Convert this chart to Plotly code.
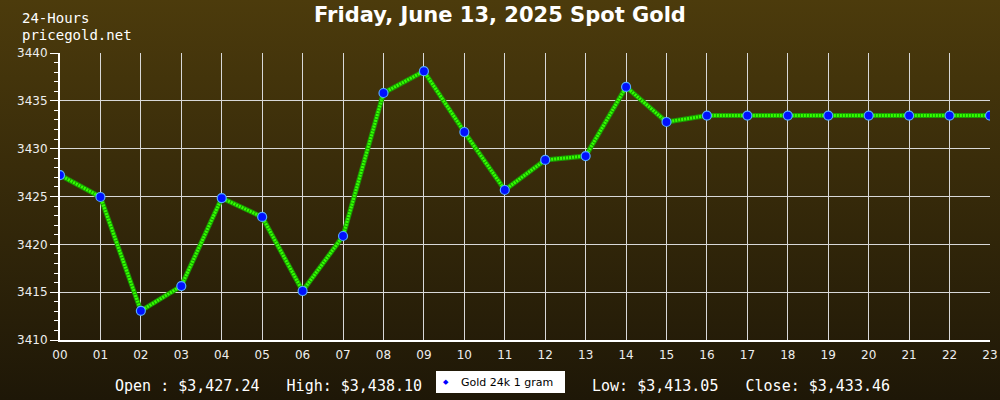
import plotly.graph_objects as go
import urllib.parse

hours = ["00","01","02","03","04","05","06","07","08","09","10","11",
         "12","13","14","15","16","17","18","19","20","21","22","23"]
prices = [3427.24, 3424.95, 3413.05, 3415.64, 3424.84, 3422.86, 3415.12, 3420.87,
          3435.82, 3438.10, 3431.74, 3425.68, 3428.82, 3429.23, 3436.45, 3432.79,
          3433.46, 3433.46, 3433.46, 3433.46, 3433.46, 3433.46, 3433.46, 3433.46]
title_text = "Friday, June 13, 2025 Spot Gold"
series_name = "Gold 24k 1 gram"
open_p, high_p, low_p, close_p = 3427.24, 3438.10, 3413.05, 3433.46

W, H = 1000, 400
L, R, T, B = 60, 10, 53, 60
pw, ph = W - L - R, H - T - B


def px(x):
    return (x - L) / pw


def py(y):
    return (H - B - y) / ph


svg = ('<svg xmlns="http://www.w3.org/2000/svg" width="1000" height="400" preserveAspectRatio="none">'
       '<defs><linearGradient id="g" x1="0" y1="0" x2="0" y2="1">'
       '<stop offset="0" stop-color="#4c3b0c"/><stop offset="1" stop-color="#1e1707"/>'
       '</linearGradient></defs><rect width="1000" height="400" fill="url(#g)"/></svg>')
bg_src = "data:image/svg+xml;charset=utf-8," + urllib.parse.quote(svg)

xs = list(range(len(hours)))
fig = go.Figure()
fig.add_trace(go.Scatter(
    x=xs, y=prices, mode="lines", showlegend=False, hoverinfo="skip",
    line=dict(color="#1a9a00", width=5)))
fig.add_trace(go.Scatter(
    x=xs, y=prices, mode="lines+markers", showlegend=False, name=series_name,
    line=dict(color="#33ff00", width=3, dash="2px,1px"),
    marker=dict(color="#0010ff", size=9, line=dict(color="#55aaff", width=1.2))))

mono = "DejaVu Sans Mono"
tfont = dict(family="DejaVu Sans", size=12, color="#eeeeee")


def ann(text, x, y, font, xanchor="left"):
    return dict(text=text, x=px(x), y=py(y), xref="paper", yref="paper",
                showarrow=False, xanchor=xanchor, yanchor="middle", font=font)


mfont = dict(family=mono, size=15, color="white")
sfont = dict(family=mono, size=14, color="white")
fig.update_layout(
    width=W, height=H, autosize=False, showlegend=False,
    margin=dict(l=L, r=R, t=T, b=B, autoexpand=False),
    paper_bgcolor="#2a2109", plot_bgcolor="rgba(0,0,0,0)",
    images=[dict(source=bg_src, xref="paper", yref="paper",
                 x=-L / pw, y=1 + T / ph, sizex=W / pw, sizey=H / ph,
                 xanchor="left", yanchor="top", sizing="stretch", layer="below")],
    title=dict(text=f"<b>{title_text}</b>", x=0.5, xref="container", xanchor="center",
               y=1 - 15 / H, yref="container", yanchor="middle",
               font=dict(family="DejaVu Sans", size=21, color="white")),
    xaxis=dict(range=[0, 23], tickmode="array", tickvals=xs, ticktext=hours,
               showgrid=True, gridcolor="#d8d8d8", gridwidth=1,
               showline=True, linecolor="white", linewidth=2, zeroline=False,
               ticks="outside", ticklen=3, tickcolor="rgba(0,0,0,0)", tickfont=tfont),
    yaxis=dict(range=[3410, 3440], dtick=5, tick0=3410,
               showgrid=True, gridcolor="#d8d8d8", gridwidth=1,
               showline=True, linecolor="white", linewidth=2, zeroline=False,
               ticks="outside", ticklen=8, tickcolor="white", tickwidth=1,
               minor=dict(dtick=1, ticks="outside", ticklen=4, tickcolor="white", showgrid=False),
               tickfont=tfont),
    shapes=[dict(type="rect", xref="paper", yref="paper",
                 x0=px(436), x1=px(565), y0=py(393), y1=py(371),
                 fillcolor="white", line=dict(width=0), layer="above")],
    annotations=[
        ann("24-Hours", 20, 18, sfont),
        ann("pricegold.net", 20, 35, sfont),
        ann(f"Open : ${open_p:,.2f}   High: ${high_p:,.2f}", 113, 386, mfont),
        ann(f"Low: ${low_p:,.2f}   Close: ${close_p:,.2f}", 590, 386, mfont),
        ann("◆", 446, 382, dict(family="DejaVu Sans", size=7, color="#0000ff"), "center"),
        ann(series_name, 459, 382, dict(family="DejaVu Sans", size=11, color="black")),
    ],
)

post = "document.body.style.margin='0';document.body.style.overflow='hidden';"
fig.write_html("out.html", post_script=post,
               config={"displayModeBar": False})
